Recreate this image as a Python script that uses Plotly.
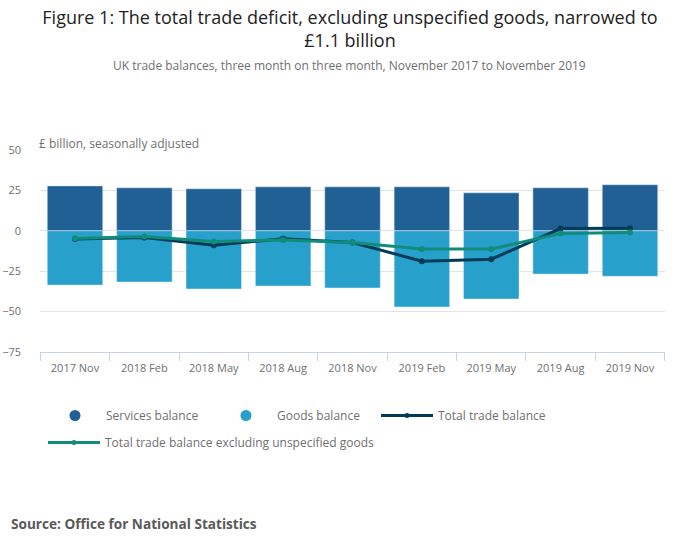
import plotly.graph_objects as go

periods = ["2017 Nov", "2018 Feb", "2018 May", "2018 Aug", "2018 Nov",
           "2019 Feb", "2019 May", "2019 Aug", "2019 Nov"]
services = [27.8, 26.6, 26.0, 27.2, 27.2, 27.2, 23.5, 26.6, 28.5]
goods = [-33.6, -31.7, -36.0, -34.2, -35.4, -47.1, -42.2, -26.8, -28.1]
total = [-5.1, -4.1, -9.0, -4.9, -7.2, -18.8, -17.6, 1.4, 1.6]
total_excl = [-4.8, -3.5, -6.6, -5.7, -7.2, -11.3, -11.3, -1.7, -1.1]

W, H = 700, 549
ML, MR, MT, MB = 40, 35, 150, 197
pw, ph = W - ML - MR, H - MT - MB

dark_blue = "#206095"
light_blue = "#27a0cc"
navy = "#003c57"
green = "#118c7b"
grey = "#707070"
font = "Open Sans"

fig = go.Figure()
fig.add_trace(go.Bar(x=periods, y=services, name="Services balance",
                     marker_color=dark_blue, showlegend=False))
fig.add_trace(go.Bar(x=periods, y=goods, name="Goods balance",
                     marker_color=light_blue, showlegend=False))
fig.add_trace(go.Scatter(x=periods, y=total, name="Total trade balance",
                         mode="lines+markers",
                         line=dict(color=navy, width=3),
                         marker=dict(size=6, color=navy), showlegend=False))
fig.add_trace(go.Scatter(x=periods, y=total_excl,
                         name="Total trade balance excluding unspecified goods",
                         mode="lines+markers",
                         line=dict(color=green, width=3),
                         marker=dict(size=6, color=green), showlegend=False))

# legend entries (circles for bars, like the original); one legend per entry
fig.add_trace(go.Scatter(x=[None], y=[None], mode="markers", name="Services balance",
                         legend="legend",
                         marker=dict(symbol="circle", size=11, color=dark_blue)))
fig.add_trace(go.Scatter(x=[None], y=[None], mode="markers", name="Goods balance",
                         legend="legend2",
                         marker=dict(symbol="circle", size=11, color=light_blue)))
fig.add_trace(go.Scatter(x=[None], y=[None], mode="lines+markers",
                         name="Total trade balance", legend="legend3",
                         line=dict(color=navy, width=3), marker=dict(size=5, color=navy)))
fig.add_trace(go.Scatter(x=[None], y=[None], mode="lines+markers", legend="legend4",
                         name="Total trade balance excluding unspecified goods",
                         line=dict(color=green, width=3), marker=dict(size=5, color=green)))

legend_font = dict(family=font, size=12, color=grey)


def legend_at(x, top):
    return dict(orientation="h", xref="container", yref="container",
                x=x / W, xanchor="left", y=1 - top / H, yanchor="top",
                font=legend_font, itemwidth=52)


fig.update_layout(
    width=W, height=H,
    barmode="relative", bargap=0.2,
    margin=dict(l=ML, r=MR, t=MT, b=MB),
    paper_bgcolor="white", plot_bgcolor="white",
    font=dict(family=font, size=11, color=grey),
    title=dict(
        text="Figure 1: The total trade deficit, excluding unspecified goods, narrowed to<br>£1.1 billion",
        x=0.5, xanchor="center", y=1 - 24 / H, yanchor="top",
        font=dict(family=font, size=18, color="#222222"),
        automargin=False,
    ),
    legend=legend_at(44, 401),
    legend2=legend_at(215, 401),
    legend3=legend_at(376, 401),
    legend4=legend_at(43, 428),
    xaxis=dict(
        type="category", showgrid=False, showline=True, linecolor="#c6d2e6",
        linewidth=1, ticks="outside", tickson="boundaries", ticklen=8,
        tickcolor="#c6d2e6", tickfont=dict(size=11, color=grey),
        ticklabelstandoff=6, automargin=False,
    ),
    yaxis=dict(
        range=[-75, 50], dtick=25, showgrid=True, gridcolor="#e3e3e3",
        zeroline=False, showline=False, ticks="",
        tickfont=dict(size=11, color=grey), ticklabelstandoff=18,
        automargin=False,
    ),
    annotations=[
        dict(text="UK trade balances, three month on three month, November 2017 to November 2019",
             xref="paper", yref="paper", x=(349 - ML) / pw, y=(H - MB - 65) / ph,
             showarrow=False, xanchor="center", yanchor="middle",
             font=dict(family=font, size=12, color=grey)),
        dict(text="£ billion, seasonally adjusted",
             xref="paper", yref="paper", x=-3 / pw, y=1 + 7 / ph,
             showarrow=False, xanchor="left", yanchor="middle",
             font=dict(family=font, size=12, color=grey)),
        dict(text="<b>Source: Office for National Statistics</b>",
             xref="paper", yref="paper", x=-31 / pw, y=-(523 - (H - MB)) / ph,
             showarrow=False, xanchor="left", yanchor="middle",
             font=dict(family=font, size=13.6, color="#595959")),
    ],
)

fig.write_html("out.html", config={"displayModeBar": False},
               post_script="document.body.style.margin='0px';")
